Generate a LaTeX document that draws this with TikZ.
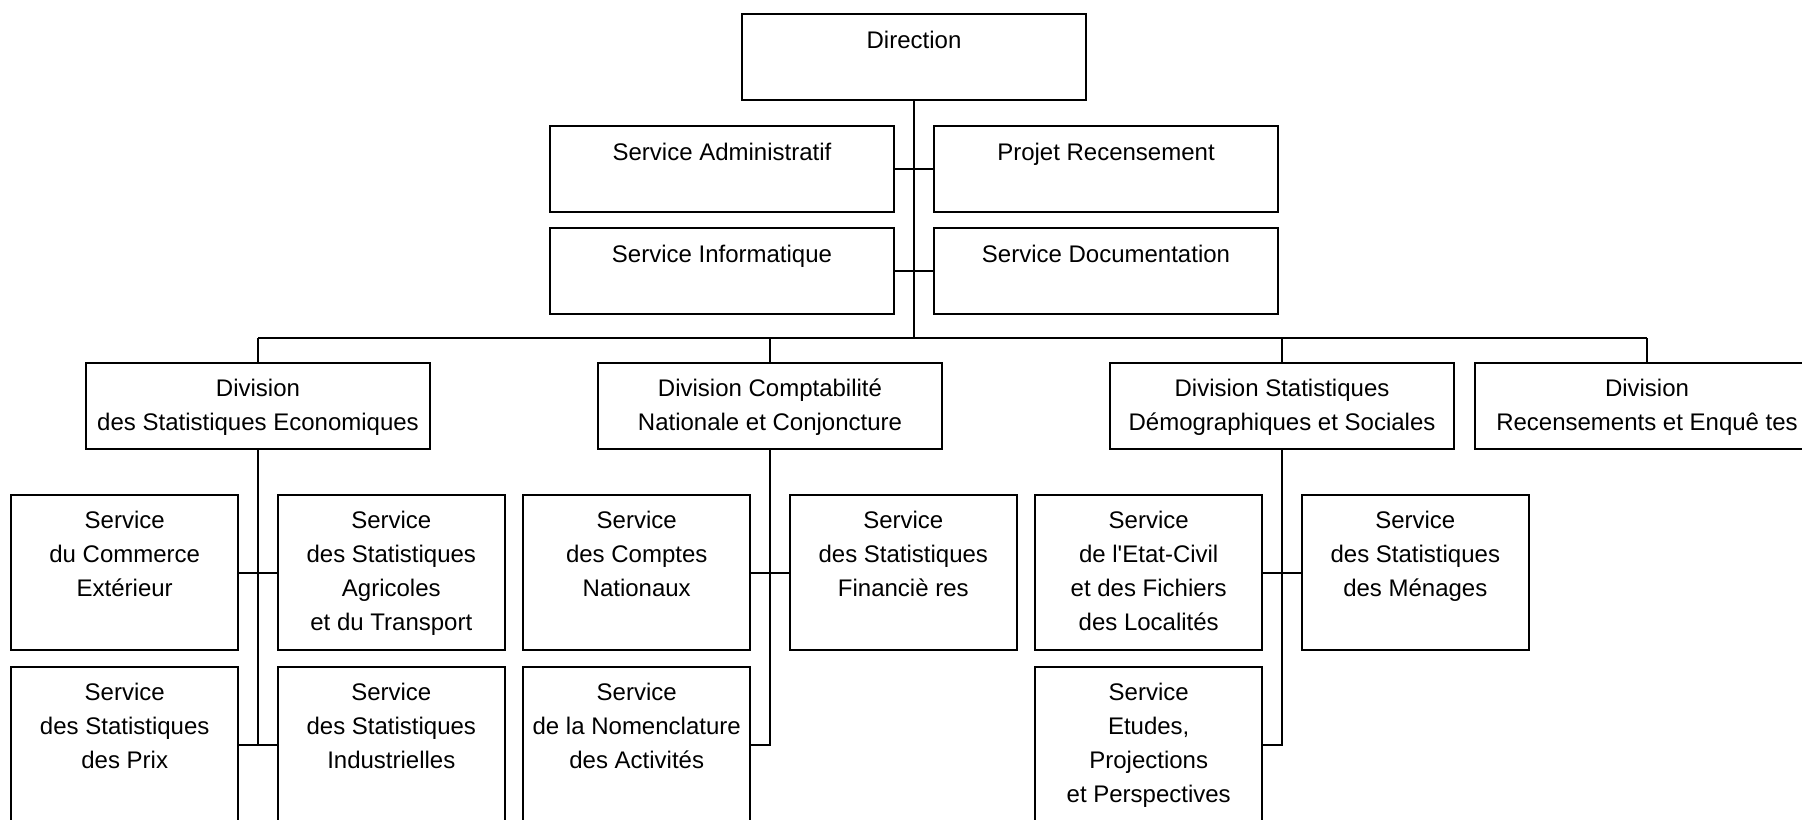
\documentclass[tikz,border=0pt]{standalone}
\usepackage{fontspec}
\setmainfont{Liberation Sans}[Ligatures=TeXOff]
\usetikzlibrary{positioning}

\tikzset{
  box/.style={draw, line width=1pt, rectangle, inner sep=0pt, anchor=north},
  wide/.style={box, minimum width=172pt, minimum height=43pt},
  svc/.style={box, minimum width=113.3pt, minimum height=77.8pt},
  txt/.style={anchor=north, align=center, inner sep=0pt, yshift=-8.6pt,
    font=\fontsize{12}{17}\selectfont},
  link/.style={line width=1pt}
}

\begin{document}
\begin{tikzpicture}[x=0.5pt, y=-0.5pt]
        \useasboundingbox (0,0) rectangle (1802,819);
        \clip (0,0) rectangle (1802,819);
        \fill[white] (0,0) rectangle (1802,819);

        \node[wide, label={[txt]north:Direction}] (direction) at (914,13.3) {};
        \node[wide, label={[txt]north:Service Administratif}] (admin) at (722,125.3) {};
        \node[wide, label={[txt]north:Projet Recensement}] (projet) at (1106,125.3) {};
        \node[wide, label={[txt]north:Service Informatique}] (info) at (722,227.3) {};
        \node[wide, label={[txt]north:Service Documentation}] (docu) at (1106,227.3) {};

        \node[wide, label={[txt]north:{Division\\des Statistiques Economiques}}] (eco) at (258,361.7) {};
        \node[wide, label={[txt]north:{Division Comptabilité\\Nationale et Conjoncture}}] (compta) at (770,361.7) {};
        \node[wide, label={[txt]north:{Division Statistiques\\Démographiques et Sociales}}] (demo) at (1282,361.7) {};
        \node[wide, label={[txt]north:{Division\\Recensements et Enquê tes}}] (recens) at (1647,361.7) {};

        \node[svc, label={[txt]north:{Service\\du Commerce\\Extérieur}}] (commerce) at (124.7,493.7) {};
        \node[svc, label={[txt]north:{Service\\des Statistiques\\Agricoles\\et du Transport}}] (agri) at (391.3,493.7) {};
        \node[svc, label={[txt]north:{Service\\des Statistiques\\des Prix}}] (prix) at (124.7,665.7) {};
        \node[svc, label={[txt]north:{Service\\des Statistiques\\Industrielles}}] (indus) at (391.3,665.7) {};

        \node[svc, label={[txt]north:{Service\\des Comptes\\Nationaux}}] (comptes) at (636.7,493.7) {};
        \node[svc, label={[txt]north:{Service\\des Statistiques\\Financiè res}}] (finance) at (903.3,493.7) {};
        \node[svc, label={[txt]north:{Service\\de la Nomenclature\\des Activités}}] (nomen) at (636.7,665.7) {};

        \node[svc, label={[txt]north:{Service\\de l'Etat-Civil\\et des Fichiers\\des Localités}}] (etatcivil) at (1148.7,493.7) {};
        \node[svc, label={[txt]north:{Service\\des Statistiques\\des Ménages}}] (menages) at (1415.3,493.7) {};
        \node[svc, label={[txt]north:{Service\\Etudes,\\Projections\\et Perspectives}}] (etudes) at (1148.7,665.7) {};

        \coordinate (hub) at (914,337.7);

        \draw[link] (direction.south) -- (hub);
        \draw[link] (admin.east) -- (projet.west);
        \draw[link] (info.east) -- (docu.west);
        \draw[link] (eco.north |- hub) -- (recens.north |- hub);
        \foreach \d in {eco,compta,demo,recens}
            \draw[link] (\d.north) -- (\d.north |- hub);

        \draw[link] (eco.south) -- (eco.south |- prix.east);
        \draw[link] (commerce.east) -- (agri.west);
        \draw[link] (prix.east) -- (indus.west);

        \draw[link] (compta.south) |- (nomen.east);
        \draw[link] (comptes.east) -- (finance.west);

        \draw[link] (demo.south) |- (etudes.east);
        \draw[link] (etatcivil.east) -- (menages.west);
    \end{tikzpicture}
\end{document}
